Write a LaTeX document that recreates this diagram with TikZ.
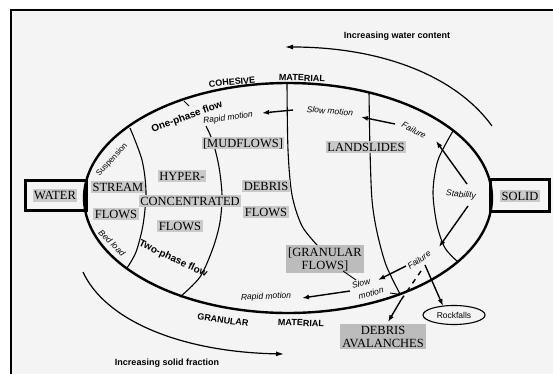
\documentclass[tikz,border=0pt]{standalone}
\usepackage{fontspec}
\setmainfont{Liberation Serif}
\setsansfont{Liberation Sans}
\usetikzlibrary{arrows.meta,shapes.geometric}
\definecolor{paper}{RGB}{244,244,244}
\definecolor{hl}{RGB}{202,202,202}
\definecolor{hld}{RGB}{188,188,188}
\begin{document}
\begin{tikzpicture}[x=1pt,y=-1pt,
  hi/.style={fill=hl,inner xsep=1.5pt,inner ysep=1.5pt,text height=9pt,text depth=0.5pt,font=\fontsize{12.5}{13}\selectfont},
  hibox/.style={fill=hld,inner sep=2pt,align=center,font=\fontsize{12.5}{13}\selectfont},
  lab/.style={font=\sffamily\itshape\fontsize{8.5}{9}\selectfont,inner sep=0.5pt},
  ulab/.style={font=\sffamily\fontsize{8}{9}\selectfont,inner sep=0.3pt},
  blab/.style={font=\sffamily\bfseries\fontsize{9}{10}\selectfont,inner sep=0.5pt},
  flab/.style={font=\sffamily\bfseries\fontsize{10}{11}\selectfont,inner sep=0.5pt},
  thinl/.style={line width=1.1pt},
  arr/.style={line width=1.4pt,-{Latex[length=7pt,width=5pt]}},
  frameb/.style={draw,line width=1.4pt,fill=paper,inner sep=0pt},
  framein/.style={line width=0.5pt},
]
\useasboundingbox (0,0) rectangle (553,374);
\clip (0,0) rectangle (553,374);
\fill[white] (0,0) rectangle (553,374);
\fill[paper] (11,10) rectangle (560,380);
\draw[line width=2pt] (570,10) -- (11,10) -- (11,390);

% outer trend arrows
\node[blab] (wtxt) at (397,36) {Increasing water content};
\node[blab] (stxt) at (167,363) {Increasing solid fraction};
\coordinate (w1) at (492,126);
\coordinate (w2) at (285,47);
\draw[line width=1.2pt,-{Latex[length=8pt,width=5pt]}] (w1) .. controls (455,75) and (380,47) .. (w2);
\coordinate (s1) at (83,272);
\coordinate (s2) at (284,354);
\draw[line width=1.2pt,-{Latex[length=8pt,width=5pt]}] (s1) .. controls (105,320) and (180,352) .. (s2);

% boxes at ends
\node[frameb,minimum width=62pt,minimum height=31pt] (waterbox) at (56,195.5) {};
\draw[framein] ([shift={(2.3pt,-2.3pt)}]waterbox.north west) rectangle ([shift={(-2.3pt,2.3pt)}]waterbox.south east);
\node[frameb,minimum width=60pt,minimum height=33pt] (solidbox) at (520,195.5) {};
\draw[framein] ([shift={(2.3pt,-2.3pt)}]solidbox.north west) rectangle ([shift={(-2.3pt,2.3pt)}]solidbox.south east);

% internal boundary lines
\draw[thinl] plot[smooth] coordinates {(130,128) (142,160) (146,192) (143,225) (136,252) (127,268)};
\draw[thinl] plot[smooth] coordinates {(206,126) (213,142) (219,167) (222,195) (220,222) (213,248) (200,277) (180,297)};
\draw[thinl] plot[smooth] coordinates {(287,84) (288,150) (292,195) (302,226) (318,246)};
\draw[thinl] plot[smooth] coordinates {(369,92) (370,150) (372,200) (377,232) (386,265) (400,294)};
\draw[thinl] plot[smooth] coordinates {(453,131) (438,160) (433,192) (437,225) (445,248) (458,262)};

% main ellipse
\draw[line width=2.4pt] (288,198) ellipse [x radius=204pt, y radius=115pt];

% highlighted texts
\node[hi] (water) at (55,195.5) {WATER};
\node[hi] (solid) at (520,196) {SOLID};
\node[hi] (stream) at (118,187) {STREAM};
\node[hi] (sflows) at (116,214) {FLOWS};
\node[hi] (hyper) at (182,176) {HYPER-};
\node[hi] (conc) at (190,201) {CONCENTRATED};
\node[hi] (hflows) at (180,226) {FLOWS};
\node[hi] (mud) at (243,143) {[MUDFLOWS]};
\node[hi] (debris) at (266,186) {DEBRIS};
\node[hi] (dflows) at (266,212) {FLOWS};
\node[hi] (land) at (366,147) {LANDSLIDES};
\node[hibox] (gran) at (325,259) {[GRANULAR\\FLOWS]};
\node[hibox] (aval) at (383,336.5) {DEBRIS\\AVALANCHES};

% ellipse labels
\node[blab,rotate=5] (coh) at (232,82) {COHESIVE};
\node[blab,rotate=-2] (matT) at (302,78) {MATERIAL};
\node[blab,rotate=-8] (granl) at (223,320) {GRANULAR};
\node[blab,rotate=-2] (matB) at (301,323) {MATERIAL};
\node[flab,rotate=20] (one) at (187,117) {One-phase flow};
\node[flab,rotate=-25] (two) at (173,259) {Two-phase flow};
\node[ulab,rotate=47] (susp) at (112,160) {Suspension};
\node[lab,rotate=-45] (bed) at (112,243) {Bed load};

% process labels
\node[lab,rotate=8] (rapidT) at (228,118) {Rapid motion};
\node[lab,rotate=-5] (slowT) at (330,111) {Slow motion};
\node[lab,rotate=-28] (failT) at (414,130) {Failure};
\node[lab,rotate=-5] (stab) at (461,195) {Stability};
\node[lab,rotate=35] (failB) at (419,260) {Failure};
\node[lab,rotate=15] (slowB1) at (361,283.5) {Slow};
\node[lab,rotate=15] (slowB2) at (371,293) {motion};
\node[lab,rotate=2] (rapidB) at (266,297) {Rapid motion};
\node[draw,ellipse,line width=1.1pt,minimum width=62pt,minimum height=19pt,inner sep=0pt,font=\sffamily\fontsize{8.5}{9}\selectfont] (rock) at (454,315) {Rockfalls};

% arrows
\coordinate (a1) at (293,110); \coordinate (a1e) at (262,113);
\draw[arr] (a1) -- (a1e);
\coordinate (a2) at (395,124); \coordinate (a2e) at (361,117);
\draw[arr] (a2) -- (a2e);
\coordinate (a3) at (467,184); \coordinate (a3e) at (436,141);
\draw[arr] (a3) -- (a3e);
\coordinate (a4) at (468,206); \coordinate (a4e) at (439,247);
\draw[arr] (a4) -- (a4e);
\coordinate (a5) at (406,266); \coordinate (a5e) at (378,280);
\draw[arr] (a5) -- (a5e);
\coordinate (a6) at (350,291); \coordinate (a6e) at (302,298);
\draw[arr] (a6) -- (a6e);
\coordinate (a7) at (421,271); \coordinate (a7m) at (401,300);
\coordinate (a7e) at (388,322);
\draw[line width=1.4pt,dash pattern=on 5pt off 5pt] (a7) -- (a7m);
\draw[arr] (a7m) -- (a7e);
\coordinate (a8) at (425,265); \coordinate (a8e) at (443,306);
\draw[arr] (a8) -- (a8e);

% small ticks
\coordinate (t1) at (184,101); \coordinate (t2) at (189,106);
\draw[line width=0.8pt] (t1) -- (t2);
\coordinate (g1) at (343,271); \coordinate (g2) at (356,280);
\draw[line width=0.9pt] (g1) -- (g2);
\coordinate (t3) at (390,293); \coordinate (t4) at (401,294.5);
\draw[line width=0.9pt] (t3) -- (t4);
\end{tikzpicture}
\end{document}
